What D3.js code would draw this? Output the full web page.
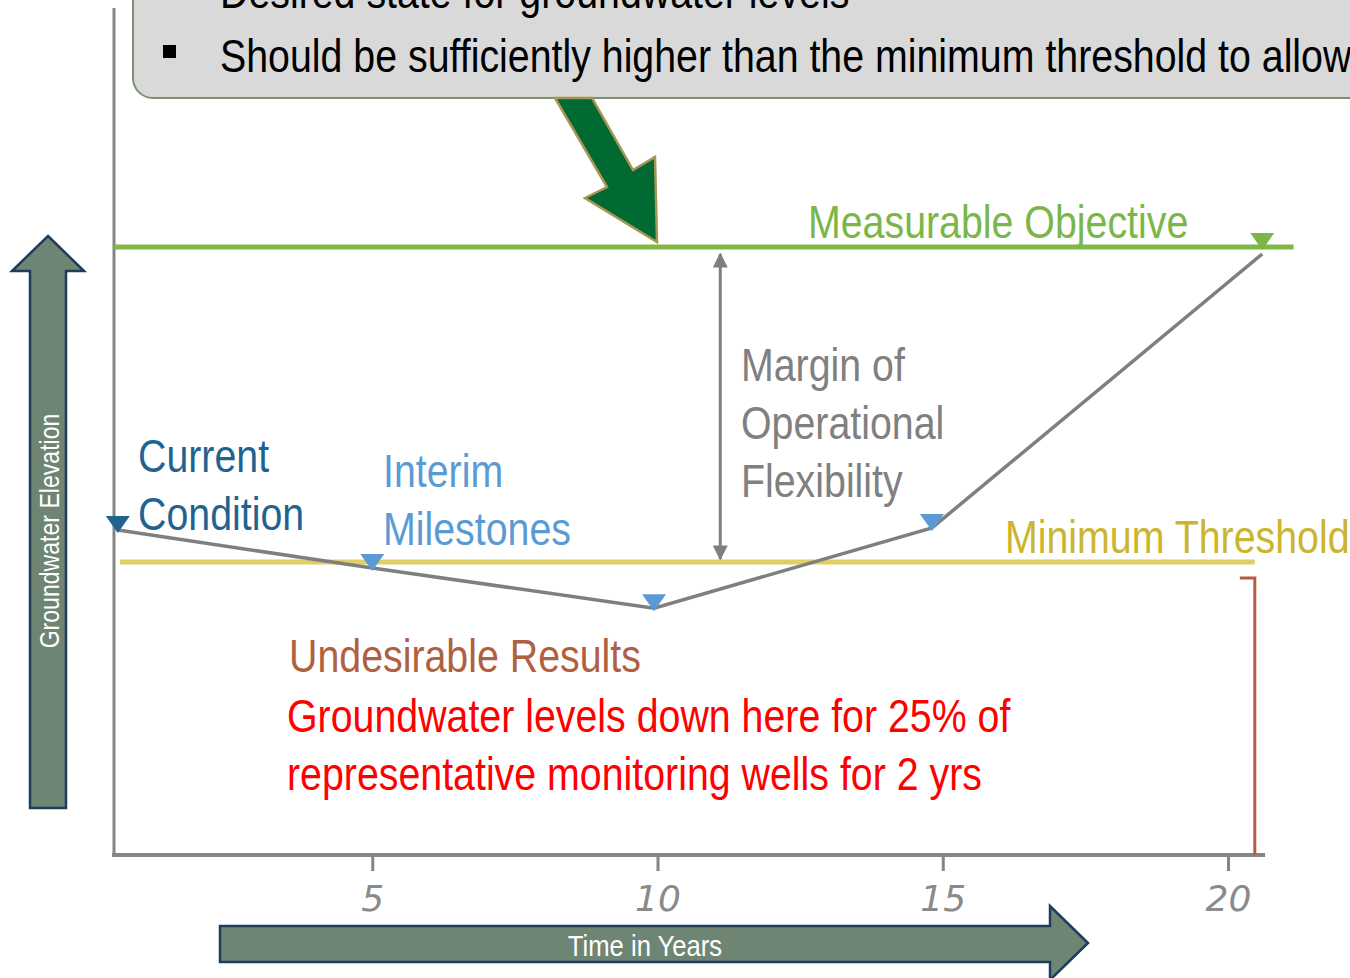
<!DOCTYPE html>
<html lang="en">
<head>
<meta charset="UTF-8">
<script src="https://cdnjs.cloudflare.com/ajax/libs/d3/7.8.5/d3.min.js"></script>
<style>
body{ margin:0; background:#fff; }
svg text{ font-family:"Liberation Sans Narrow","Arial Narrow","Liberation Sans",sans-serif; }
</style>
</head>
<body>
<div id="main-container"></div>
<script type="text/javascript">
/* global d3 */

// hydrograph path (years, elevation in arbitrary units)
const years = [0.54, 5, 9.94, 14.81, 20.6];
const levels = [53.45, 47.2, 40.6, 53.8, 98.85];
const markerKind = ['current', 'interim', 'interim', 'interim', 'objective'];
const tickYears = [5, 10, 15, 20];
const measurableObjective = 100;
const minimumThreshold = 48.2;
const calloutLines = ['Desired state for groundwater levels', 'Should be sufficiently higher than the minimum threshold to allow'];
const undesirableLines = ['Groundwater levels down here for 25% of', 'representative monitoring wells for 2 yrs'];

const w = 1350, h = 978;
const narrow = 0.855; // no narrow font installed, squeeze the regular one
const xScale = d3.scaleLinear().domain([0, 20]).range([87, 1228]);
const yScale = d3.scaleLinear().domain([0, 100]).range([855, 247]);

const svg = d3.select('#main-container').append('svg').attr('width', w).attr('height', h);

const markerColor = {current: '#1f6391', interim: '#5b9bd5', objective: '#7ab648'};

const label = (x, y, lines, color, size, gap) => {
  lines.forEach((t, i) => {
    svg.append('text').attr('transform', 'translate(' + x + ',' + (y + i * (gap || 58)) + ') scale(' + narrow + ',1)')
      .attr('fill', color).style('font-size', size + 'px').text(t);
  });
};

// axes lines
svg.append('line').attr('x1', 114).attr('x2', 114).attr('y1', 8).attr('y2', yScale(0))
  .attr('stroke', '#858585').attr('stroke-width', 3);
svg.append('line').attr('x1', 112).attr('x2', xScale(20.65)).attr('y1', yScale(0)).attr('y2', yScale(0))
  .attr('stroke', '#858585').attr('stroke-width', 4);

const xAxis = d3.axisBottom(xScale).tickValues(tickYears).tickSize(15).tickPadding(14);
const gx = svg.append('g').attr('transform', 'translate(0,' + (yScale(0) + 1) + ')').call(xAxis);
gx.select('.domain').remove();
gx.selectAll('.tick line').attr('stroke', '#858585').attr('stroke-width', 3);
gx.selectAll('.tick text').attr('fill', '#8a8a8a').style('font-size', '36px').style('font-style', 'italic')
  .style('font-family', '"DejaVu Sans","Liberation Sans",sans-serif').style('font-weight', '300');

// callout box at top
svg.append('rect').attr('x', 133).attr('y', -40).attr('width', 1300).attr('height', 138).attr('rx', 20)
  .attr('fill', '#d9d9d9').attr('stroke', '#7d8f72').attr('stroke-width', 2);
calloutLines.forEach((t, i) => {
  svg.append('rect').attr('x', 163).attr('y', (i === 0 ? -14 : 45)).attr('width', 13).attr('height', 13).attr('fill', '#000');
});
label(220, 8, calloutLines, '#000', 46, 64);

// green pointer arrow
svg.append('path').attr('d', 'M555,98 L592,98 L633,170 L655,157 L657,242 L585,198 L607,187 Z')
  .attr('fill', '#006a32').attr('stroke', '#a99553').attr('stroke-width', 2.5).attr('stroke-linejoin', 'miter');

// threshold lines
svg.append('line').attr('x1', 114).attr('x2', xScale(21.15))
  .attr('y1', yScale(measurableObjective)).attr('y2', yScale(measurableObjective))
  .attr('stroke', '#80b846').attr('stroke-width', 5);
svg.append('line').attr('x1', 120).attr('x2', xScale(20.47))
  .attr('y1', yScale(minimumThreshold)).attr('y2', yScale(minimumThreshold))
  .attr('stroke', '#dfcf67').attr('stroke-width', 5);

// margin of operational flexibility double arrow
svg.append('defs').append('marker').attr('id', 'ah').attr('viewBox', '0 0 10 10').attr('refX', 9).attr('refY', 5)
  .attr('markerWidth', 5).attr('markerHeight', 5).attr('orient', 'auto-start-reverse')
  .append('path').attr('d', 'M0,0 L10,5 L0,10 Z').attr('fill', '#7f7f7f');
svg.append('line').attr('x1', xScale(11.1)).attr('x2', xScale(11.1))
  .attr('y1', yScale(measurableObjective) + 7).attr('y2', yScale(minimumThreshold) - 3)
  .attr('stroke', '#7f7f7f').attr('stroke-width', 3)
  .attr('marker-start', 'url(#ah)').attr('marker-end', 'url(#ah)');

// undesirable results bracket
svg.append('path')
  .attr('d', 'M' + (xScale(20.47) - 15) + ',' + 578 + ' H' + xScale(20.47) + ' V' + yScale(0))
  .attr('fill', 'none').attr('stroke', '#b85c41').attr('stroke-width', 3);

// hydrograph line
const pts = years.map((d, i) => [xScale(d), yScale(levels[i])]);
svg.append('path').datum(pts).attr('d', d3.line()).attr('fill', 'none')
  .attr('stroke', '#7f7f7f').attr('stroke-width', 3.5);

// inverted triangle markers
svg.selectAll('.mk').data(years).enter().append('path').attr('class', 'mk')
  .attr('d', (d, i) => {
    const x = xScale(d), y = yScale(levels[i]) + 3;
    const s = 12, hh = 17;
    return 'M' + (x - s) + ',' + (y - hh) + ' L' + (x + s) + ',' + (y - hh) + ' L' + x + ',' + y + ' Z';
  })
  .attr('transform', (d, i) => markerKind[i] === 'objective' ? 'translate(0,-7)' : null)
  .attr('fill', (d, i) => markerColor[markerKind[i]]);

// labels
label(808, 238, ['Measurable Objective'], '#7ab648', 46);
label(1005, 553, ['Minimum Threshold'], '#cbb52e', 46);
label(138, 472, ['Current', 'Condition'], '#1f6391', 46);
label(383, 487, ['Interim', 'Milestones'], '#5b9bd5', 46);
label(741, 381, ['Margin of', 'Operational', 'Flexibility'], '#808080', 46);
label(289, 672, ['Undesirable Results'], '#b0603f', 46);
label(287, 732, undesirableLines, '#ff0000', 46);

// side arrows
svg.append('path').attr('d', 'M48,236 L84,271 L66,271 L66,808 L30,808 L30,271 L12,271 Z')
  .attr('fill', '#6f8573').attr('stroke', '#1c3d5c').attr('stroke-width', 2.5);
svg.append('text').attr('transform', 'translate(59,531) rotate(-90) scale(' + narrow + ',1)').attr('text-anchor', 'middle')
  .attr('fill', '#fff').style('font-size', '27px').text('Groundwater Elevation');

svg.append('path').attr('d', 'M220,926 L1050,926 L1050,906 L1088,943 L1050,980 L1050,962 L220,962 Z')
  .attr('fill', '#6f8573').attr('stroke', '#1c3d5c').attr('stroke-width', 2.5);
svg.append('text').attr('transform', 'translate(645,956) scale(' + narrow + ',1)').attr('text-anchor', 'middle')
  .attr('fill', '#fff').style('font-size', '30px').text('Time in Years');
</script>
</body>
</html>
